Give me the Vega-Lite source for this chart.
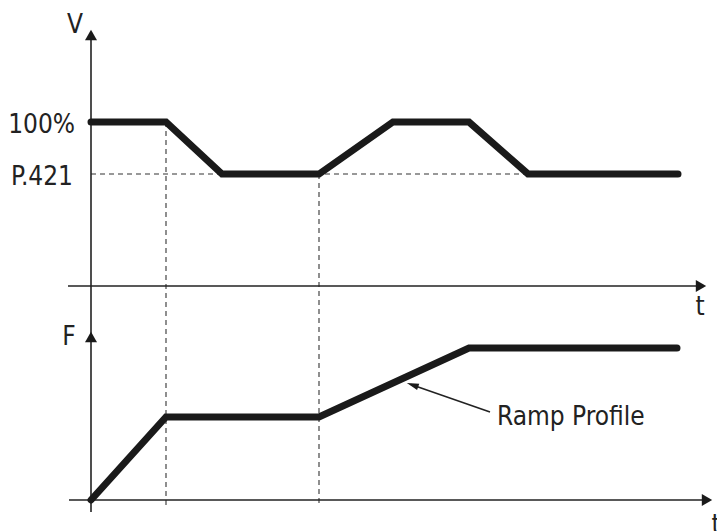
{
  "$schema": "https://vega.github.io/schema/vega-lite/v6.json",
  "width": 717,
  "height": 531,
  "padding": 0,
  "autosize": {"type": "none"},
  "background": "white",
  "config": {"view": {"stroke": null}},
  "datasets": {
    "profiles": [
      {"s": "V", "o": 1, "t": 0, "y": 378},
      {"s": "V", "o": 2, "t": 75, "y": 378},
      {"s": "V", "o": 3, "t": 131, "y": 326},
      {"s": "V", "o": 4, "t": 228, "y": 326},
      {"s": "V", "o": 5, "t": 302, "y": 378},
      {"s": "V", "o": 6, "t": 378, "y": 378},
      {"s": "V", "o": 7, "t": 437, "y": 326},
      {"s": "V", "o": 8, "t": 587, "y": 326},
      {"s": "F", "o": 1, "t": 0, "y": 0},
      {"s": "F", "o": 2, "t": 75, "y": 83},
      {"s": "F", "o": 3, "t": 228, "y": 83},
      {"s": "F", "o": 4, "t": 378, "y": 152},
      {"s": "F", "o": 5, "t": 586, "y": 152}
    ],
    "axes": [
      {"t": 0, "y": 465, "t2": 0, "y2": -12},
      {"t": -23, "y": 214, "t2": 610, "y2": 214},
      {"t": -22, "y": 0, "t2": 616, "y2": 0},
      {"t": 399, "y": 88, "t2": 320, "y2": 115.5}
    ],
    "dashes": [
      {"t": 0, "y": 326, "t2": 437, "y2": 326},
      {"t": 75, "y": 378, "t2": 75, "y2": -8},
      {"t": 228, "y": 326, "t2": 228, "y2": -7}
    ],
    "arrows": [
      {"t": 0, "y": 465, "shape": "triangle-up"},
      {"t": 0, "y": 163, "shape": "triangle-up"},
      {"t": 610, "y": 214, "shape": "triangle-right"},
      {"t": 616, "y": 0, "shape": "triangle-right"}
    ],
    "pointer": [
      {"t": 321.5, "y": 115, "a": 19}
    ],
    "labelsRight": [
      {"t": -16, "y": 367, "label": "100%"},
      {"t": -18, "y": 315, "label": "P.421"}
    ],
    "labelsCenter": [
      {"t": -16, "y": 467, "label": "V"},
      {"t": -22, "y": 155, "label": "F"},
      {"t": 609, "y": 185, "label": "t"},
      {"t": 625, "y": -33, "label": "t"}
    ],
    "labelsLeft": [
      {"t": 406, "y": 75, "label": "Ramp Profile"}
    ]
  },
  "encoding": {
    "x": {"field": "t", "type": "quantitative", "scale": {"domain": [-91, 626], "nice": false, "zero": false}, "axis": null},
    "y": {"field": "y", "type": "quantitative", "scale": {"domain": [-31, 500], "nice": false, "zero": false}, "axis": null}
  },
  "layer": [
    {
      "data": {"name": "dashes"},
      "mark": {"type": "rule", "stroke": "#333333", "strokeWidth": 1.1, "strokeDash": [5, 4]},
      "encoding": {"x2": {"field": "t2"}, "y2": {"field": "y2"}}
    },
    {
      "data": {"name": "axes"},
      "mark": {"type": "rule", "stroke": "#222222", "strokeWidth": 1.6},
      "encoding": {"x2": {"field": "t2"}, "y2": {"field": "y2"}}
    },
    {
      "data": {"name": "arrows"},
      "mark": {"type": "point", "filled": true, "size": 144, "fill": "#1a1a1a", "stroke": null, "opacity": 1},
      "encoding": {"shape": {"field": "shape", "type": "nominal", "scale": null}}
    },
    {
      "data": {"name": "pointer"},
      "mark": {"type": "point", "filled": true, "size": 144, "fill": "#1a1a1a", "stroke": null, "opacity": 1, "shape": "M-1,0L1,-0.55L1,0.55Z"},
      "encoding": {"angle": {"field": "a", "type": "quantitative", "scale": null}}
    },
    {
      "data": {"name": "profiles"},
      "mark": {"type": "line", "stroke": "#1a1a1a", "strokeWidth": 7, "strokeCap": "round", "strokeJoin": "miter"},
      "encoding": {
        "detail": {"field": "s", "type": "nominal"},
        "order": {"field": "o", "type": "quantitative"}
      }
    },
    {
      "data": {"name": "labelsRight"},
      "mark": {"type": "text", "align": "right", "baseline": "alphabetic", "font": "Liberation Sans Narrow, DejaVu Sans Condensed, sans-serif", "fontSize": 26, "fill": "#222222"},
      "encoding": {"text": {"field": "label"}}
    },
    {
      "data": {"name": "labelsCenter"},
      "mark": {"type": "text", "align": "center", "baseline": "alphabetic", "font": "Liberation Sans Narrow, DejaVu Sans Condensed, sans-serif", "fontSize": 26, "fill": "#222222"},
      "encoding": {"text": {"field": "label"}}
    },
    {
      "data": {"name": "labelsLeft"},
      "mark": {"type": "text", "align": "left", "baseline": "alphabetic", "font": "Liberation Sans Narrow, DejaVu Sans Condensed, sans-serif", "fontSize": 26, "fill": "#222222"},
      "encoding": {"text": {"field": "label"}}
    }
  ]
}
